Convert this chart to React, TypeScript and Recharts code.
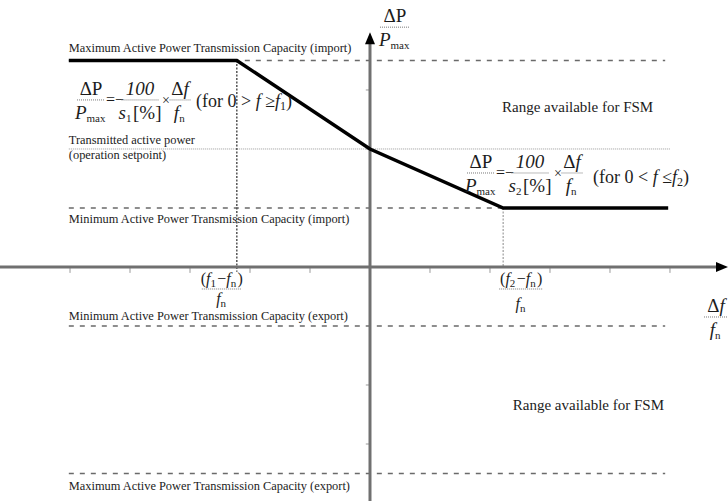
import React from 'react';
import { ComposedChart, Line, XAxis, YAxis, ReferenceLine, ReferenceDot } from 'recharts';

// Δf/fn along the horizontal axis (one unit = one tick)
const deviation = [-5.02, -2.22, 0, 2.22, 4.97];
// ΔP/Pmax response of the FSM droop curve (same units as the vertical ticks)
const response = [3.5, 3.5, 2, 1, 1];

const capacityNames = [
  'Maximum Active Power Transmission Capacity (import)',
  'Minimum Active Power Transmission Capacity (import)',
  'Minimum Active Power Transmission Capacity (export)',
  'Maximum Active Power Transmission Capacity (export)',
];
const capacityLevels = [3.5, 1, -1, -3.5];
const setpointLevel = 2;
const kneeDeviation = [-2.22, 2.22];
const kneeResponse = [3.5, 1];
const xTicks = [-5, -4, -3, -2, -1, 1, 2, 3, 4, 5];
const yTicks = [-3, -2, -1, 1, 2, 3];

const X_DOMAIN: [number, number] = [-6.167, 5.967];
const Y_DOMAIN: [number, number] = [-3.966, 4.525];
const LEVEL_FROM = -5.02;
const LEVEL_TO = 4.92;
const Y_TOP = 3.98;

const data = deviation.map((x, i) => ({ x, p: response[i] }));

const FONT = '"Liberation Serif", "Times New Roman", serif';
const INK = '#1c1c1c';
const DASH = '#6a6a6a';
const AXIS = '#707070';

const note = (key: string, x: number, y: number, content: React.ReactNode) => (
  <ReferenceDot
    key={key}
    x={x}
    y={y}
    r={0}
    ifOverflow="visible"
    shape={(p: any) => (
      <g transform={`translate(${p.cx},${p.cy})`} fontFamily={FONT} fill={INK}>
        {content}
      </g>
    )}
  />
);

const Frac = ({
  x,
  y = 0,
  w,
  num,
  den,
  size = 19,
  gap = 19,
}: {
  x: number;
  y?: number;
  w: number;
  num: React.ReactNode;
  den: React.ReactNode;
  size?: number;
  gap?: number;
}) => (
  <g>
    <text x={x} y={y - 5} textAnchor="middle" fontSize={size}>{num}</text>
    <line x1={x - w / 2} x2={x + w / 2} y1={y} y2={y} stroke="#777" strokeWidth={1} strokeDasharray="1 1" />
    <text x={x} y={y + gap} textAnchor="middle" fontSize={size}>{den}</text>
  </g>
);

const sub = (s: string) => (
  <>
    <tspan fontSize={11} dy={3}>{s}</tspan>
    <tspan dy={-3}>{'\u200a'}</tspan>
  </>
);

const pmax = (
  <>
    <tspan fontStyle="italic">P</tspan>
    {sub('max')}
  </>
);
const fn = (
  <>
    <tspan fontStyle="italic">f</tspan>
    {sub('n')}
  </>
);
const df = (
  <>
    Δ<tspan fontStyle="italic">f</tspan>
  </>
);
const slope = (n: string) => (
  <>
    <tspan fontStyle="italic">s</tspan>
    {sub(n)}[%]
  </>
);

const equation = (n: string, rel: string, gap: number, tail: number) => (
  <>
    <Frac x={14} w={28} num="ΔP" den={pmax} />
    <text x={29} y={5} fontSize={16}>=−</text>
    <Frac x={63} w={37} num={<tspan fontStyle="italic">100</tspan>} den={slope(n)} />
    <text x={gap} y={5} fontSize={14}>×</text>
    <Frac x={gap + 18} w={21} num={df} den={fn} />
    <text x={tail} y={n === '1' ? 7 : 10} fontSize={18}>
      (for 0 {rel} <tspan fontStyle="italic">f</tspan> {n === '1' ? '≥' : '≤'}
      <tspan fontStyle="italic">f</tspan>
      <tspan fontSize={12} dy={3}>{n}</tspan>
      <tspan dy={-3}>)</tspan>
    </text>
  </>
);

const labelOffsets = [-8, 15, -6, 16];

export default function App() {
  return (
    <div style={{ position: 'absolute', left: 0, top: 0, width: 728, height: 501, background: '#fff' }}>
      <ComposedChart width={728} height={501} data={data} margin={{ top: 0, right: 0, bottom: 0, left: 0 }}>
        <XAxis dataKey="x" type="number" domain={X_DOMAIN} allowDataOverflow hide />
        <YAxis type="number" domain={Y_DOMAIN} allowDataOverflow hide />

        {capacityLevels.map((v, i) => (
          <ReferenceLine
            key={`lvl${i}`}
            segment={[{ x: LEVEL_FROM, y: v }, { x: LEVEL_TO, y: v }]}
            stroke={DASH}
            strokeWidth={1.6}
            strokeDasharray="5 6"
          />
        ))}
        <ReferenceLine
          segment={[{ x: LEVEL_FROM, y: setpointLevel }, { x: 5.0, y: setpointLevel }]}
          stroke="#9a9a9a"
          strokeWidth={1}
          strokeDasharray="1 1"
        />
        <ReferenceLine
          segment={[{ x: kneeDeviation[0], y: kneeResponse[0] }, { x: kneeDeviation[0], y: -0.08 }]}
          stroke="#555"
          strokeWidth={1.5}
          strokeDasharray="2 1.5"
        />
        <ReferenceLine
          segment={[{ x: kneeDeviation[1], y: kneeResponse[1] }, { x: kneeDeviation[1], y: 0 }]}
          stroke="#b0b0b0"
          strokeWidth={1.5}
          strokeDasharray="2 1.5"
        />

        {xTicks.map((t) => (
          <ReferenceLine key={`xt${t}`} segment={[{ x: t, y: 0 }, { x: t, y: -0.1 }]} stroke="#9a9a9a" strokeWidth={1} />
        ))}
        {yTicks.map((t) => (
          <ReferenceLine key={`yt${t}`} segment={[{ x: -0.07, y: t }, { x: 0, y: t }]} stroke="#9a9a9a" strokeWidth={1} />
        ))}

        <ReferenceLine segment={[{ x: X_DOMAIN[0], y: 0 }, { x: 5.8, y: 0 }]} stroke={AXIS} strokeWidth={3} />
        <ReferenceLine segment={[{ x: 0, y: Y_TOP - 0.15 }, { x: 0, y: Y_DOMAIN[0] }]} stroke={AXIS} strokeWidth={3} />

        <Line
          dataKey="p"
          type="linear"
          stroke="#000"
          strokeWidth={3.5}
          dot={false}
          activeDot={false}
          isAnimationActive={false}
        />

        {note('arrowX', X_DOMAIN[1], 0, <polygon points="0,0 -12,-5 -12,5" fill="#000" />)}
        {note('arrowY', 0, Y_TOP, <polygon points="0,0 -5,12 5,12" fill="#000" />)}

        {capacityNames.map((name, i) =>
          note(
            `cap${i}`,
            LEVEL_FROM,
            capacityLevels[i],
            <text x={0} y={labelOffsets[i]} fontSize={12.4}>{name}</text>
          )
        )}
        {note(
          'setpoint',
          LEVEL_FROM,
          setpointLevel,
          <>
            <text x={0} y={-5} fontSize={12.4}>Transmitted active power</text>
            <text x={0} y={10} fontSize={12.4}>(operation setpoint)</text>
          </>
        )}

        {note('fsmTop', 2.2, 2.63, <text fontSize={15}>Range available for FSM</text>)}
        {note('fsmBottom', 2.38, -2.42, <text fontSize={15}>Range available for FSM</text>)}

        {note('eq1', -4.883, 2.831, equation('1', '>', 85, 119))}
        {note('eq2', 1.617, 1.593, equation('2', '<', 87, 126))}

        {note('yLabel', 0, Y_TOP, <Frac x={25} y={-5} w={30} num="ΔP" den={pmax} size={19} />)}
        {note(
          'xLabel',
          X_DOMAIN[1],
          0,
          <Frac x={-12} y={50} w={24} num={df} den={fn} size={19} />
        )}

        {note(
          'f1',
          kneeDeviation[0],
          0,
          <Frac
            x={-15}
            y={22}
            w={40}
            size={16}
            gap={15}
            num={
              <>
                (<tspan fontStyle="italic">f</tspan>
                {sub('1')}−{fn})
              </>
            }
            den={fn}
          />
        )}
        {note(
          'f2',
          kneeDeviation[1],
          0,
          <Frac
            x={18}
            y={22}
            w={44}
            size={16}
            gap={20}
            num={
              <>
                (<tspan fontStyle="italic">f</tspan>
                {sub('2')}−{fn})
              </>
            }
            den={fn}
          />
        )}
      </ComposedChart>
    </div>
  );
}
